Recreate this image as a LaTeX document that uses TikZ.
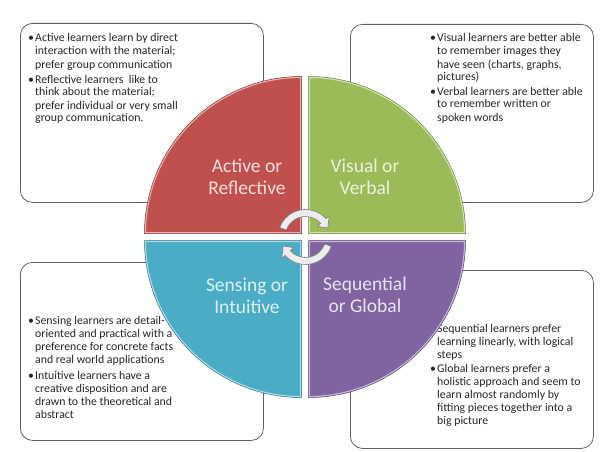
\documentclass[tikz,border=0pt]{standalone}
\usepackage{fontspec}
\setmainfont{Carlito}
\definecolor{qred}{HTML}{C0504D}
\definecolor{qgreen}{HTML}{9BBB59}
\definecolor{qblue}{HTML}{4BACC6}
\definecolor{qpurple}{HTML}{8064A2}
\definecolor{txtc}{HTML}{262626}
\newcommand\myquadrant[2]{%
  \fill[#1] #2;
  \begin{scope}\clip #2; \draw[#1!45!white, line width=3pt] #2; \end{scope}
  \draw[#1!70!black, line width=0.5pt] #2;
}
\newcommand\bul{\textbullet}
\tikzset{
  box/.style={draw=black!62, line width=0.8pt, rounded corners=12pt, fill=white, inner sep=0pt, anchor=north west},
  txt/.style={inner sep=0pt, anchor=base west, text=txtc, font=\fontsize{11.8}{13}\selectfont},
  lab/.style={align=center, inner sep=0pt, font=\fontsize{19.5}{21.5}\selectfont},
  cyc/.style={fill=black!7, draw=black!50, line width=0.6pt, line join=round}
}
\begin{document}
\begin{tikzpicture}[x=1pt,y=-1pt]
\useasboundingbox (0,0) rectangle (602,452);
\fill[white] (0,0) rectangle (602,452);
% boxes
\node[box, minimum width=243pt, minimum height=179pt] (b1) at (20,23) {};
\node[box, minimum width=243pt, minimum height=178pt] (b2) at (350,24) {};
\node[box, minimum width=243pt, minimum height=178pt] (b3) at (20,262) {};
\node[box, minimum width=243pt, minimum height=178pt] (b4) at (350,270) {};
% texts
\node[txt] (t1) at (28,42) {\begin{tabular}[t]{@{}p{7pt}@{}l@{}}
\bul & Active learners learn by direct\\
 & interaction with the material;\\
 & prefer group communication\\[2pt]
\bul & Reflective learners\ \ like to\\
 & think about the material;\\
 & prefer individual or very small\\
 & group communication.
\end{tabular}};
\node[txt] (t2) at (430,42) {\begin{tabular}[t]{@{}p{7pt}@{}l@{}}
\bul & Visual learners are better able\\
 & to remember images they\\
 & have seen (charts, graphs,\\
 & pictures)\\[1pt]
\bul & Verbal learners are better able\\
 & to remember written or\\
 & spoken words
\end{tabular}};
\node[txt] (t3) at (28,324) {\begin{tabular}[t]{@{}p{7pt}@{}l@{}}
\bul & Sensing learners are detail-\\
 & oriented and practical with a\\
 & preference for concrete facts\\
 & and real world applications\\[3pt]
\bul & Intuitive learners have a\\
 & creative disposition\ and are\\
 & drawn to the theoretical and\\
 & abstract
\end{tabular}};
\node[txt] (t4) at (430,332) {\begin{tabular}[t]{@{}p{7pt}@{}l@{}}
 & Sequential learners prefer\\
 & learning linearly, with logical\\
 & steps\\[1pt]
\bul & Global learners prefer a\\
 & holistic approach and seem to\\
 & learn almost randomly by\\
 & fitting pieces together into a\\
 & big picture
\end{tabular}};
% quadrants
\myquadrant{qred}{(301.5,233.5) -- ++(-157,0) arc[start angle=180,end angle=270,radius=157] -- cycle}
\myquadrant{qgreen}{(308.5,233.5) -- ++(0,-157) arc[start angle=270,end angle=360,radius=157] -- cycle}
\myquadrant{qblue}{(301.5,240.5) -- ++(-157,0) arc[start angle=180,end angle=90,radius=157] -- cycle}
\myquadrant{qpurple}{(308.5,240.5) -- ++(157,0) arc[start angle=0,end angle=90,radius=157] -- cycle}
% labels
\node[lab, text=qred!18!white] (l1) at (247,177) {Active or\\Reflective};
\node[lab, text=qgreen!20!white] (l2) at (365,177) {Visual or\\Verbal};
\node[lab, text=qblue!18!white] (l3) at (247,296) {Sensing or\\Intuitive};
\node[lab, text=qpurple!18!white] (l4) at (365,295) {Sequential\\or Global};
% cycle arrows
\begin{scope}[shift={(305.5,237)}]
\draw[cyc] (200:27.5) arc[start angle=200,end angle=318,radius=27.5] -- (318:32) -- (338:24) -- (318:16) -- (318:20.5) arc[start angle=318,end angle=200,radius=20.5] -- cycle;
\draw[cyc] (20:27.5) arc[start angle=20,end angle=138,radius=27.5] -- (138:32) -- (158:24) -- (138:16) -- (138:20.5) arc[start angle=138,end angle=20,radius=20.5] -- cycle;
\end{scope}
\end{tikzpicture}
\end{document}
